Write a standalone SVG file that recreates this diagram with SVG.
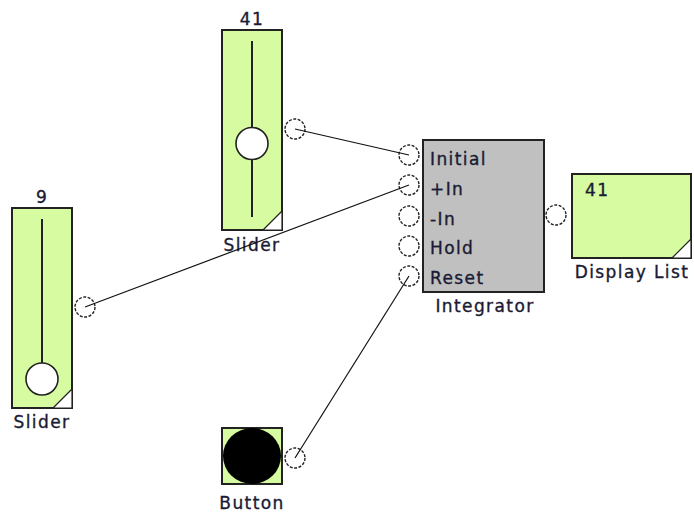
<svg xmlns="http://www.w3.org/2000/svg" width="694" height="518" viewBox="0 0 694 518">
<style>
.box{fill:#d6fba0;stroke:#222;stroke-width:2}
.gray{fill:#c0c0c0;stroke:#222;stroke-width:2}
.tri{fill:#fff;stroke:#222;stroke-width:1.2}
.port{fill:none;stroke:#222;stroke-width:1.4;stroke-dasharray:3 1.5}
.knob{fill:#fff;stroke:#222;stroke-width:1.6}
.track{stroke:#222;stroke-width:2}
.wire{stroke:#111;stroke-width:1.2;fill:none}
text{font-family:"DejaVu Sans",Verdana,sans-serif;font-size:17px;letter-spacing:1.4px;fill:#1a1a34;stroke:#1a1a34;stroke-width:0.35}
.c{text-anchor:middle}
</style>
<rect width="694" height="518" fill="#fff"/>
<g id="slider1">
<text class="c" x="252" y="25">41</text>
<rect class="box" x="222" y="30" width="60" height="200"/>
<line class="track" x1="252" y1="41" x2="252" y2="217"/>
<circle class="knob" cx="252" cy="143.5" r="16"/>
<polygon class="tri" points="282,211 282,230 263,230"/>
<circle class="port" cx="295" cy="129" r="10"/>
<text class="c" x="252" y="251">Slider</text>
</g>
<g id="slider2">
<text class="c" x="42" y="203">9</text>
<rect class="box" x="12" y="208" width="60" height="200"/>
<line class="track" x1="42" y1="219" x2="42" y2="363"/>
<circle class="knob" cx="42" cy="379" r="16"/>
<polygon class="tri" points="72,389 72,408 53,408"/>
<circle class="port" cx="85" cy="307" r="10"/>
<text class="c" x="42" y="428">Slider</text>
</g>
<g id="integrator">
<rect class="gray" x="423" y="140" width="121" height="152"/>
<circle class="port" cx="409" cy="155" r="10"/>
<circle class="port" cx="409" cy="185" r="10"/>
<circle class="port" cx="409" cy="216" r="10"/>
<circle class="port" cx="409" cy="246" r="10"/>
<circle class="port" cx="409" cy="276" r="10"/>
<circle class="port" cx="556" cy="215" r="10"/>
<text x="430" y="165">Initial</text>
<text x="430" y="195">+In</text>
<text x="430" y="225">-In</text>
<text x="430" y="254">Hold</text>
<text x="430" y="284">Reset</text>
<text class="c" x="485" y="312">Integrator</text>
</g>
<g id="display">
<rect class="box" x="572" y="174" width="119" height="84"/>
<polygon class="tri" points="691,239 691,258 672,258"/>
<text x="585" y="196">41</text>
<text class="c" x="632" y="278">Display List</text>
</g>
<g id="button">
<rect class="box" x="222" y="428" width="60" height="56"/>
<ellipse cx="252" cy="456" rx="29" ry="28" fill="#000"/>
<circle class="port" cx="295" cy="458" r="10"/>
<text class="c" x="252" y="509">Button</text>
</g>
<g id="connectors">
<line class="wire" x1="295" y1="129" x2="409" y2="155"/>
<line class="wire" x1="85" y1="307" x2="409" y2="185"/>
<line class="wire" x1="295" y1="458" x2="409" y2="276"/>
</g>
</svg>
